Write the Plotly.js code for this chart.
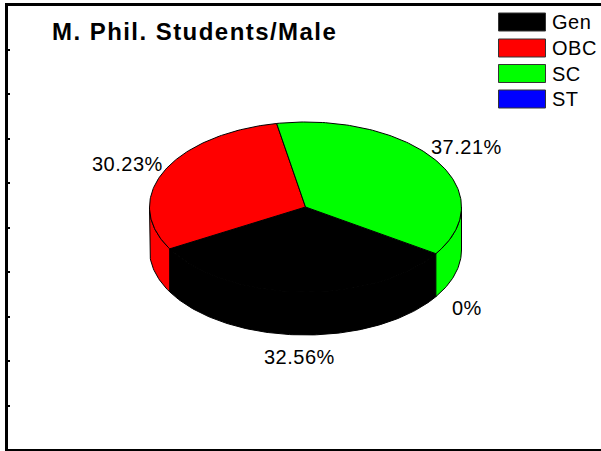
<!DOCTYPE html>
<html>
<head>
<meta charset="utf-8">
<script src="https://cdn.plot.ly/plotly-3.0.1.min.js"></script>
<style>html,body{margin:0;padding:0;background:#fff;overflow:hidden}#chart{width:601px;height:451px}
.gtitle{letter-spacing:1.45px}
.annotation-text{letter-spacing:0.5px}</style>
</head>
<body>
<div id="chart"></div>
<script>
var chartTitle = "M. Phil. Students/Male";
var categories = ["Gen", "OBC", "SC", "ST"];
var shares = [32.56, 30.23, 37.21, 0];
var colors = ["#000000", "#ff0000", "#00ff00", "#0000ff"];
var startAngle = 123.3;
var labelX = [299, 127, 466, 467];
var labelY = [357, 164, 147, 308];
var legendTop = [13, 39, 64.5, 90];

var cx = 305.5, cy = 207, rx = 156, ry = 85, depth = 43;
var FONT = "Liberation Sans, Arial, sans-serif";

function px(t){ return cx + rx * Math.sin(t * Math.PI / 180); }
function py(t, d){ return cy - ry * Math.cos(t * Math.PI / 180) + (d || 0); }
function range(a, b){ var o = []; var n = Math.max(1, Math.ceil(Math.abs(b - a))); for (var i = 0; i <= n; i++) o.push(a + (b - a) * i / n); return o; }

var total = shares.reduce(function(s, v){ return s + v; }, 0);
var spans = [], ang = startAngle;
shares.forEach(function(v){ var e = ang + v / total * 360; spans.push([ang, e]); ang = e; });

var traces = [];
function poly(xs, ys, color, name){
  traces.push({type:"scatter", mode:"lines", x:xs, y:ys, fill:"toself", fillcolor:color,
    line:{color:"#000", width:1}, showlegend:false, hoverinfo:"text", text:name, name:name});
}
// side walls: visible part of each slice on the lower half of the ellipse
spans.forEach(function(s, i){
  if (shares[i] === 0) return;
  [-360, 0, 360].forEach(function(k){
    var a = Math.max(s[0] + k, 90), b = Math.min(s[1] + k, 270);
    if (b <= a) return;
    var ts = range(a, b), xs = [], ys = [];
    ts.forEach(function(t){ xs.push(px(t)); ys.push(py(t)); });
    ts.slice().reverse().forEach(function(t){ xs.push(px(t)); ys.push(py(t, depth)); });
    xs.push(xs[0]); ys.push(ys[0]);
    poly(xs, ys, colors[i], categories[i]);
  });
});
// top faces
spans.forEach(function(s, i){
  if (shares[i] === 0) return;
  var xs = [cx], ys = [cy];
  range(s[0], s[1]).forEach(function(t){ xs.push(px(t)); ys.push(py(t)); });
  xs.push(cx); ys.push(cy);
  poly(xs, ys, colors[i], categories[i]);
});

var annotations = shares.map(function(v, i){
  return {x:labelX[i], y:labelY[i], xref:"x", yref:"y", text:v + "%", showarrow:false,
    xanchor:"center", yanchor:"middle", font:{family:FONT, size:20, color:"#000"}};
});
categories.forEach(function(c, i){
  annotations.push({x:550, y:legendTop[i] + 9, xref:"x", yref:"y", text:c, showarrow:false,
    xanchor:"left", yanchor:"middle", font:{family:FONT, size:20, color:"#000"}});
});
var shapes = categories.map(function(c, i){
  return {type:"rect", xref:"x", yref:"y", x0:498.5, x1:545.5, y0:legendTop[i], y1:legendTop[i] + 18,
    fillcolor:colors[i], line:{color:"#333", width:1}};
});

Plotly.newPlot("chart", traces, {
  width:601, height:451, paper_bgcolor:"#fff", plot_bgcolor:"#fff", showlegend:false,
  margin:{l:8, r:0, t:6, b:2},
  title:{text:"<b>" + chartTitle + "</b>", x:52/601, xanchor:"left", y:1-32/451, yanchor:"middle",
    font:{family:FONT, size:24, color:"#000"}},
  xaxis:{range:[8,601], showgrid:false, zeroline:false, showticklabels:false, ticks:"",
    showline:true, mirror:true, linewidth:3, linecolor:"#000", fixedrange:true},
  yaxis:{range:[449,6], showgrid:false, zeroline:false, showticklabels:false,
    tick0:5, dtick:44.5, ticks:"inside", ticklen:2, tickwidth:2, tickcolor:"#000",
    showline:true, linewidth:3, linecolor:"#000", fixedrange:true},
  annotations:annotations, shapes:shapes
}, {displayModeBar:false, staticPlot:true});
</script>
</body>
</html>
